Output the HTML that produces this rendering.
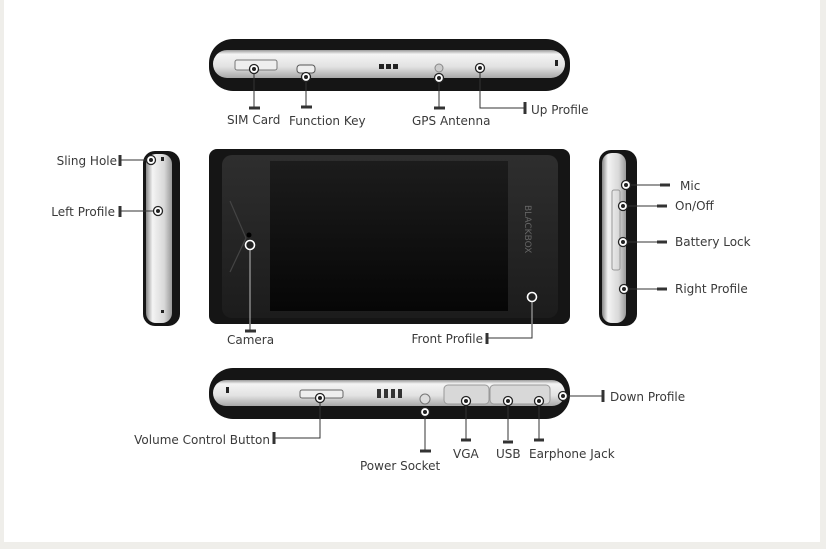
<!DOCTYPE html>
<html><head><meta charset="utf-8"><style>
html,body{margin:0;padding:0;background:#efeeea;}
svg{display:block}
text{font-family:"DejaVu Sans","Liberation Sans",sans-serif;font-size:12px;fill:#3a3a3a}
</style></head><body>
<svg width="826" height="549" viewBox="0 0 826 549" xmlns="http://www.w3.org/2000/svg">
<defs>
<linearGradient id="silv" x1="0" y1="0" x2="0" y2="1">
<stop offset="0" stop-color="#9a9a9a"/><stop offset="0.15" stop-color="#f4f4f4"/><stop offset="0.6" stop-color="#e2e2e2"/><stop offset="1" stop-color="#a8a8a8"/></linearGradient>
<linearGradient id="silvh" x1="0" y1="0" x2="1" y2="0">
<stop offset="0" stop-color="#888"/><stop offset="0.25" stop-color="#f4f4f4"/><stop offset="0.7" stop-color="#d8d8d8"/><stop offset="1" stop-color="#999"/></linearGradient>
<linearGradient id="scr" x1="0" y1="0" x2="0" y2="1">
<stop offset="0" stop-color="#1c1c1c"/><stop offset="1" stop-color="#060606"/></linearGradient>
<linearGradient id="bez" x1="0" y1="0" x2="0" y2="1">
<stop offset="0" stop-color="#2e2e2e"/><stop offset="1" stop-color="#1c1c1c"/></linearGradient>
<g id="m"><circle r="4.5" fill="#fff" stroke="#222" stroke-width="1.3"/><circle r="2" fill="#222"/></g>
<g id="mw"><circle r="4.5" fill="#222" stroke="#fff" stroke-width="1.6"/><circle r="1.8" fill="#222"/></g>
</defs>
<rect x="0" y="0" width="826" height="549" fill="#efeeea"/>
<rect x="4" y="0" width="816" height="542" fill="#ffffff"/>

<!-- top phone -->
<rect x="209" y="39" width="361" height="52" rx="24" fill="#151515"/>
<rect x="213" y="50" width="352" height="28" rx="14" fill="url(#silv)"/>
<rect x="235" y="60" width="42" height="10" rx="2" fill="#eee" stroke="#777"/>
<rect x="297" y="65" width="18" height="8" rx="3" fill="#eee" stroke="#555"/>
<rect x="379" y="64" width="5" height="5" fill="#222"/><rect x="386" y="64" width="5" height="5" fill="#222"/><rect x="393" y="64" width="5" height="5" fill="#222"/>
<circle cx="439" cy="68" r="4" fill="#ccc" stroke="#888"/>
<rect x="555" y="60" width="3" height="6" fill="#222"/>

<!-- left side -->
<rect x="143" y="151" width="37" height="175" rx="12" fill="#151515"/>
<rect x="146" y="154" width="26" height="169" rx="10" fill="url(#silvh)"/>
<rect x="161" y="157" width="3" height="4" fill="#222"/>
<rect x="161" y="310" width="3" height="3" fill="#222"/>

<!-- front -->
<rect x="209" y="149" width="361" height="175" rx="8" fill="#151515"/>
<rect x="222" y="155" width="336" height="163" rx="10" fill="url(#bez)"/>
<rect x="270" y="161" width="238" height="150" fill="url(#scr)"/>
<path d="M230 201 L246 238 L230 272" fill="none" stroke="#444" stroke-width="1.2"/>
<circle cx="249" cy="235" r="2.5" fill="#000"/>
<text x="0" y="0" transform="translate(525,205) rotate(90)" style="font-size:9px;fill:#666">BLACKBOX</text>

<!-- right side -->
<rect x="599" y="150" width="38" height="176" rx="12" fill="#151515"/>
<rect x="602" y="153" width="24" height="170" rx="10" fill="url(#silvh)"/>
<rect x="612" y="190" width="8" height="80" rx="2" fill="none" stroke="#999"/>

<!-- bottom phone -->
<rect x="209" y="368" width="361" height="51" rx="24" fill="#151515"/>
<rect x="213" y="380" width="352" height="26" rx="13" fill="url(#silv)"/>
<rect x="300" y="390" width="43" height="8" rx="2" fill="#eee" stroke="#666"/>
<rect x="377" y="389" width="4" height="9" fill="#333"/><rect x="384" y="389" width="4" height="9" fill="#333"/><rect x="391" y="389" width="4" height="9" fill="#333"/><rect x="398" y="389" width="4" height="9" fill="#333"/>
<circle cx="425" cy="399" r="5" fill="#ddd" stroke="#777"/>
<rect x="444" y="385" width="45" height="19" rx="4" fill="#d8d8d8" stroke="#999"/>
<rect x="490" y="385" width="60" height="19" rx="4" fill="#d8d8d8" stroke="#999"/>
<rect x="226" y="387" width="3" height="6" fill="#222"/>

<!-- connectors -->
<g stroke="#333" stroke-width="1" fill="none">
<path d="M254 69 V108"/><path d="M306 77 V107"/><path d="M439 78 V108"/><path d="M480 68 V108 H525"/>
<path d="M120 160 H151"/><path d="M120 211 H158"/>
<path d="M250 246 V331" stroke="#bbb"/><path d="M250 324 V331"/>
<path d="M532 297 V338 H487" stroke="#bbb"/><path d="M532 324 V338 H487"/>
<path d="M626 185 H665"/><path d="M623 206 H662"/><path d="M623 242 H662"/><path d="M624 289 H662"/>
<path d="M320 398 V438 H274"/><path d="M425 412 V450"/><path d="M466 401 V440"/><path d="M508 401 V440"/><path d="M539 401 V440"/><path d="M563 396 H603"/>
</g>
<g stroke="#333" stroke-width="3" fill="none">
<path d="M249 108 H260"/><path d="M301 107 H312"/><path d="M434 108 H445"/><path d="M525 102 V114"/>
<path d="M120 155 V166"/><path d="M120 206 V217"/>
<path d="M245 331 H256"/><path d="M487 333 V344"/>
<path d="M660 185 H670"/><path d="M657 206 H667"/><path d="M657 242 H667"/><path d="M657 289 H667"/>
<path d="M274 432 V444"/><path d="M420 451 H431"/><path d="M461 440 H471"/><path d="M503 442 H513"/><path d="M534 440 H544"/><path d="M603 390 V402"/>
</g>
<use href="#m" x="254" y="69"/><use href="#m" x="306" y="77"/><use href="#m" x="439" y="78"/><use href="#m" x="480" y="68"/>
<use href="#m" x="151" y="160"/><use href="#m" x="158" y="211"/>
<use href="#mw" x="250" y="245"/><use href="#mw" x="532" y="297"/>
<use href="#m" x="626" y="185"/><use href="#m" x="623" y="206"/><use href="#m" x="623" y="242"/><use href="#m" x="624" y="289"/>
<use href="#m" x="320" y="398"/><use href="#m" x="425" y="412"/><use href="#m" x="466" y="401"/><use href="#m" x="508" y="401"/><use href="#m" x="539" y="401"/><use href="#m" x="563" y="396"/>

<text x="227" y="124">SIM Card</text>
<text x="289" y="125">Function Key</text>
<text x="412" y="125">GPS Antenna</text>
<text x="531" y="114">Up Profile</text>
<text x="117" y="165" text-anchor="end">Sling Hole</text>
<text x="115" y="216" text-anchor="end">Left Profile</text>
<text x="227" y="344">Camera</text>
<text x="483" y="343" text-anchor="end">Front Profile</text>
<text x="680" y="190">Mic</text>
<text x="675" y="210">On/Off</text>
<text x="675" y="246">Battery Lock</text>
<text x="675" y="293">Right Profile</text>
<text x="270" y="444" text-anchor="end">Volume Control Button</text>
<text x="360" y="470">Power Socket</text>
<text x="453" y="458">VGA</text>
<text x="496" y="458">USB</text>
<text x="529" y="458">Earphone Jack</text>
<text x="610" y="401">Down Profile</text>
</svg>
</body></html>
